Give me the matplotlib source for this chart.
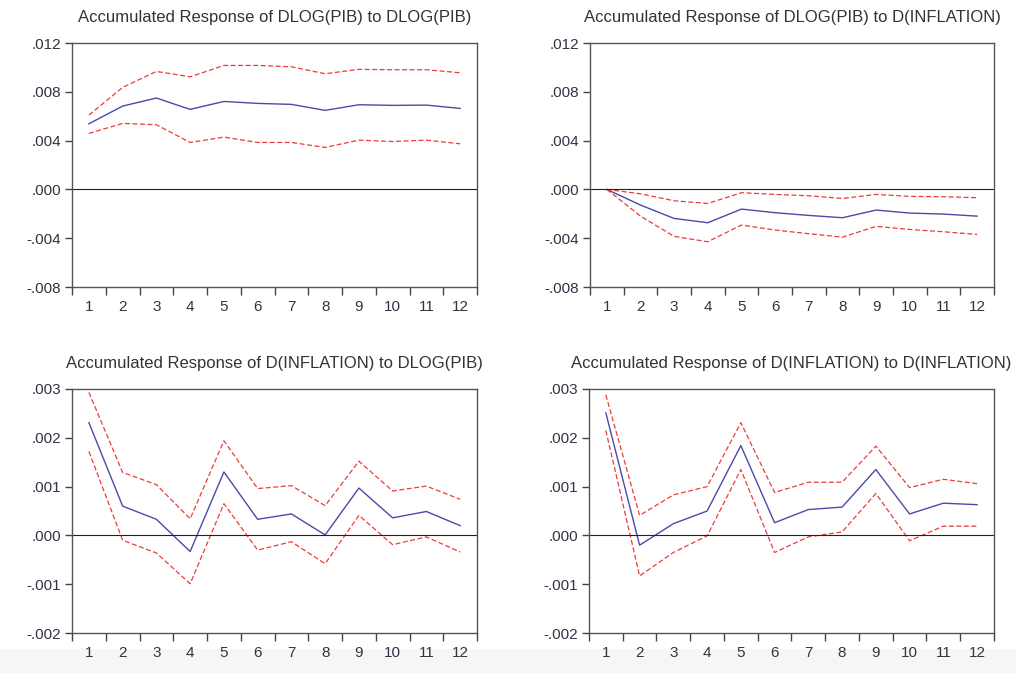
import numpy as np
from matplotlib import pyplot as plt
from matplotlib.ticker import FixedLocator, FuncFormatter

periods = list(range(1, 13))

# DLOG(PIB) to DLOG(PIB)
pib_pib = [5.38, 6.83, 7.49, 6.56, 7.21, 7.05, 6.97, 6.48, 6.94, 6.89, 6.91, 6.64]
pib_pib_hi = [6.09, 8.36, 9.67, 9.23, 10.16, 10.16, 10.05, 9.48, 9.84, 9.81, 9.81, 9.56]
pib_pib_lo = [4.59, 5.41, 5.30, 3.85, 4.29, 3.85, 3.85, 3.44, 4.04, 3.93, 4.04, 3.74]

# DLOG(PIB) to D(INFLATION)
pib_inf = [0.0, -1.28, -2.38, -2.73, -1.61, -1.91, -2.13, -2.32, -1.69, -1.94, -2.02, -2.19]
pib_inf_hi = [0.0, -0.36, -0.93, -1.15, -0.27, -0.41, -0.52, -0.74, -0.41, -0.57, -0.60, -0.68]
pib_inf_lo = [0.0, -2.19, -3.85, -4.29, -2.92, -3.33, -3.63, -3.91, -3.03, -3.28, -3.47, -3.69]

# D(INFLATION) to DLOG(PIB)
inf_pib = [2.31, 0.60, 0.33, -0.33, 1.30, 0.33, 0.44, 0.01, 0.97, 0.36, 0.49, 0.20]
inf_pib_hi = [2.93, 1.29, 1.04, 0.34, 1.94, 0.96, 1.02, 0.61, 1.52, 0.91, 1.01, 0.74]
inf_pib_lo = [1.72, -0.10, -0.36, -0.99, 0.65, -0.30, -0.13, -0.58, 0.41, -0.19, -0.03, -0.34]

# D(INFLATION) to D(INFLATION)
inf_inf = [2.51, -0.20, 0.24, 0.50, 1.84, 0.26, 0.53, 0.58, 1.35, 0.44, 0.66, 0.63]
inf_inf_hi = [2.88, 0.41, 0.83, 1.00, 2.31, 0.88, 1.09, 1.09, 1.83, 0.98, 1.15, 1.06]
inf_inf_lo = [2.15, -0.83, -0.35, -0.01, 1.35, -0.35, -0.03, 0.07, 0.86, -0.11, 0.19, 0.19]

titles = ['Accumulated Response of DLOG(PIB) to DLOG(PIB)',
          'Accumulated Response of DLOG(PIB) to D(INFLATION)',
          'Accumulated Response of D(INFLATION) to DLOG(PIB)',
          'Accumulated Response of D(INFLATION) to D(INFLATION)']
panels = [(pib_pib, pib_pib_hi, pib_pib_lo),
          (pib_inf, pib_inf_hi, pib_inf_lo),
          (inf_pib, inf_pib_hi, inf_pib_lo),
          (inf_inf, inf_inf_hi, inf_inf_lo)]
yticks_top = [-0.008, -0.004, 0.000, 0.004, 0.008, 0.012]
yticks_bot = [-0.002, -0.001, 0.000, 0.001, 0.002, 0.003]

plt.rcParams['font.family'] = ['Liberation Sans', 'DejaVu Sans']

fig = plt.figure(figsize=(10.16, 6.73), dpi=100)
# pale strip along the bottom edge
fig.patches.append(plt.Rectangle((0, 0), 1, 0.035, transform=fig.transFigure,
                                 color='#f6f6f6', zorder=-5))

boxes = [[0.0709, 0.5735, 0.3986, 0.3626],
         [0.5807, 0.5735, 0.3976, 0.3626],
         [0.0709, 0.0594, 0.3986, 0.3626],
         [0.5797, 0.0594, 0.3986, 0.3626]]

def fmt(v, pos):
    s = '%.3f' % v
    return s.replace('0.', '.', 1)

for i in range(4):
    ax = fig.add_axes(boxes[i])
    ax.patch.set_alpha(0)
    mid, hi, lo = panels[i]
    scale = 0.001
    mid = np.array(mid) * scale
    hi = np.array(hi) * scale
    lo = np.array(lo) * scale
    ax.plot(periods, mid, color='#4a4aa8', lw=1.0)
    ax.plot(periods, hi, color='#ee3b3b', lw=0.9, ls=(0, (4, 2)))
    ax.plot(periods, lo, color='#ee3b3b', lw=0.9, ls=(0, (4, 2)))
    ax.axhline(0, color='#222222', lw=0.8)

    ticks = yticks_top if i < 2 else yticks_bot
    ax.set_ylim(ticks[0], ticks[-1])
    ax.set_yticks(ticks)
    ax.yaxis.set_major_formatter(FuncFormatter(fmt))
    ax.set_xlim(0.5, 12.5)
    ax.xaxis.set_major_locator(FixedLocator(np.arange(0.5, 13, 1)))
    ax.xaxis.set_minor_locator(FixedLocator(periods))
    ax.xaxis.set_major_formatter(FuncFormatter(lambda v, p: ''))
    ax.xaxis.set_minor_formatter(FuncFormatter(lambda v, p: '%d' % v))
    ax.tick_params(axis='x', which='major', length=6, width=1.0, color='#444444')
    ax.tick_params(axis='x', which='minor', length=0, pad=9, labelsize=11, labelcolor='#333344')
    ax.tick_params(axis='y', length=5, width=1.0, color='#444444', pad=3,
                   labelsize=11, labelcolor='#333344')
    for sp in ax.spines.values():
        sp.set_color('#555555')
        sp.set_linewidth(1.0)
    ax.set_title(titles[i], fontsize=12, color='#333333', pad=15)

plt.savefig('out.png', dpi=100)
